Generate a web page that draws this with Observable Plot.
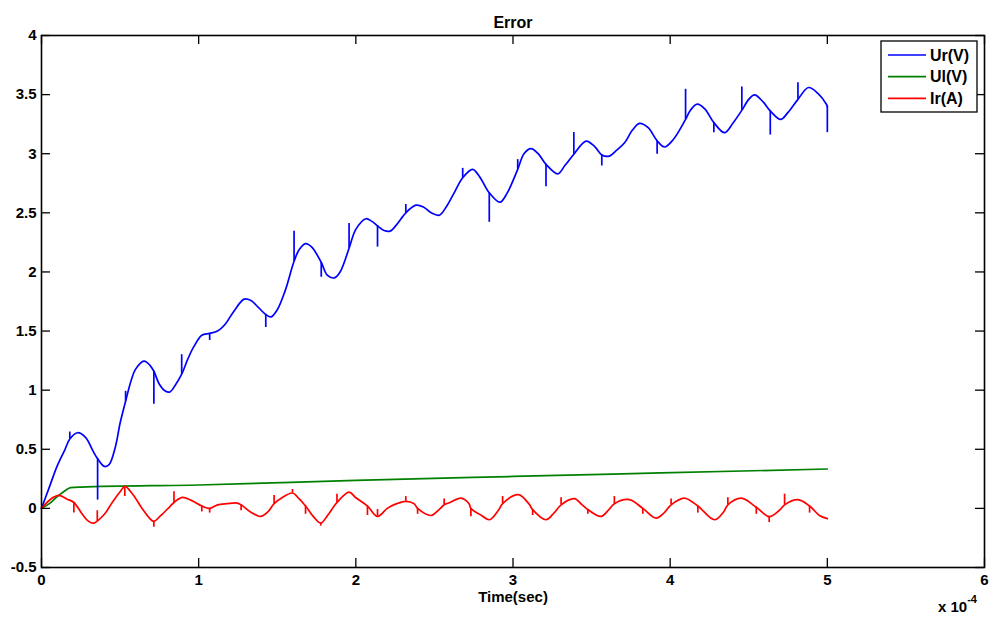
<!DOCTYPE html>
<html><head><meta charset="utf-8">
<script src="https://cdn.jsdelivr.net/npm/d3@7"></script>
<script src="https://cdn.jsdelivr.net/npm/@observablehq/plot@0.6"></script>
<style>body{margin:0;background:#fff;} svg{display:block}</style>
</head><body><div id="chart"></div>
<script>
const chartTitle = "Error";
const xLabel = "Time(sec)";
const seriesNames = ["Ur(V)", "Ul(V)", "Ir(A)"];
const seriesColors = ["#0000ff", "#008000", "#ff0000"];
const xTicks = [0, 1, 2, 3, 4, 5, 6];
const yTicks = [-0.5, 0, 0.5, 1, 1.5, 2, 2.5, 3, 3.5, 4];

// Ur(V): smooth trace [time (x1e-4 s), value]
const urPoints = [
  [0,0],[0.05,0.18],[0.10,0.36],[0.15,0.50],[0.18,0.587],[0.23,0.64],[0.28,0.60],[0.33,0.48],
  [0.357,0.42],[0.40,0.355],[0.43,0.37],[0.47,0.52],[0.50,0.72],[0.535,0.906],
  [0.57,1.08],[0.60,1.18],[0.652,1.245],[0.69,1.21],[0.715,1.16],[0.75,1.05],[0.79,0.99],[0.817,0.985],
  [0.85,1.04],[0.892,1.135],[0.93,1.26],[0.97,1.37],[1.02,1.465],[1.07,1.48],
  [1.12,1.50],[1.17,1.56],[1.22,1.66],[1.289,1.77],[1.33,1.76],[1.38,1.70],[1.427,1.64],[1.46,1.62],
  [1.50,1.68],[1.55,1.84],[1.607,2.09],[1.64,2.19],[1.68,2.24],[1.72,2.21],[1.78,2.08],
  [1.82,1.97],[1.862,1.95],[1.90,2.0],[1.957,2.20],[2.0,2.36],[2.064,2.45],[2.10,2.43],
  [2.138,2.39],[2.18,2.35],[2.218,2.345],[2.26,2.40],[2.318,2.50],
  [2.382,2.565],[2.43,2.55],[2.48,2.50],[2.531,2.48],[2.58,2.56],[2.63,2.68],[2.68,2.797],
  [2.743,2.868],[2.79,2.80],[2.849,2.67],[2.917,2.59],[2.96,2.66],[3.03,2.868],
  [3.07,3.0],[3.115,3.043],[3.16,3.0],[3.21,2.91],[3.285,2.83],[3.33,2.90],[3.387,2.995],
  [3.465,3.107],[3.52,3.06],[3.565,2.99],[3.613,2.98],[3.66,3.03],[3.71,3.093],[3.76,3.20],
  [3.805,3.257],[3.86,3.22],[3.917,3.11],[3.964,3.057],[4.02,3.12],[4.098,3.29],
  [4.13,3.37],[4.172,3.42],[4.22,3.38],[4.278,3.263],[4.346,3.178],[4.40,3.26],
  [4.456,3.367],[4.50,3.46],[4.537,3.497],[4.59,3.44],[4.637,3.362],
  [4.703,3.29],[4.75,3.35],[4.813,3.46],[4.88,3.56],[4.94,3.51],[4.994,3.418],[5.0,3.40]
];
// Ur(V) switching spikes: [time, from, to]
const urSpikes = [
  [0.18,0.587,0.646],[0.357,0.42,0.07],[0.535,0.906,0.99],[0.715,1.16,0.88],[0.892,1.135,1.30],[1.07,1.48,1.42],
  [1.427,1.64,1.53],[1.607,2.09,2.345],[1.78,2.08,1.955],[1.957,2.20,2.41],[2.138,2.39,2.21],[2.318,2.50,2.57],
  [2.68,2.797,2.876],[2.849,2.67,2.42],[3.03,2.868,2.95],[3.21,2.91,2.72],[3.387,2.995,3.18],[3.565,2.99,2.896],
  [3.917,3.11,2.995],[4.098,3.29,3.545],[4.278,3.263,3.178],[4.456,3.367,3.565],[4.637,3.362,3.158],
  [4.813,3.46,3.60],[5.0,3.40,3.178]
];

// Ul(V)
const ulPoints = [
  [0,0],[0.05,0.04],[0.10,0.10],[0.15,0.15],[0.185,0.175],[0.25,0.180],[1.0,0.198],[2.0,0.237],[3.0,0.27],[3.94,0.30],[5.0,0.333]
];

// Ir(A)
const irPoints = [
  [0,0],[0.06,0.08],[0.11,0.11],[0.16,0.08],[0.206,0.05],[0.26,-0.05],[0.30,-0.11],[0.333,-0.124],
  [0.40,-0.05],[0.45,0.05],[0.50,0.14],[0.53,0.186],
  [0.58,0.12],[0.64,0.0],[0.70,-0.10],[0.715,-0.11],[0.76,-0.06],[0.82,0.02],
  [0.843,0.05],[0.896,0.093],[0.95,0.07],[1.02,0.02],[1.07,0.0],
  [1.12,0.03],[1.18,0.04],[1.246,0.045],[1.27,0.03],[1.33,-0.03],[1.395,-0.068],[1.44,-0.03],
  [1.48,0.04],[1.53,0.09],[1.597,0.13],[1.64,0.08],[1.68,0.02],
  [1.73,-0.07],[1.777,-0.124],[1.82,-0.06],[1.88,0.05],[1.957,0.138],[2.0,0.09],
  [2.074,0.02],[2.138,-0.068],[2.20,0.0],[2.26,0.04],[2.318,0.06],
  [2.37,0.04],[2.393,0.0],[2.478,-0.06],[2.53,-0.01],[2.562,0.03],[2.60,0.05],[2.669,0.087],
  [2.72,0.04],[2.732,0.0],[2.80,-0.06],[2.85,-0.096],[2.91,-0.01],[2.934,0.04],
  [3.034,0.116],[3.10,0.04],[3.125,-0.01],[3.21,-0.096],[3.26,-0.04],[3.306,0.03],
  [3.39,0.082],[3.44,0.03],[3.476,-0.01],[3.56,-0.068],[3.61,-0.01],[3.645,0.04],
  [3.74,0.074],[3.826,0.0],[3.91,-0.082],[3.96,-0.04],[4.006,0.03],
  [4.09,0.087],[4.176,0.02],[4.282,-0.096],[4.34,-0.03],[4.367,0.03],
  [4.452,0.087],[4.548,0.01],[4.63,-0.07],[4.70,-0.01],
  [4.728,0.03],[4.813,0.074],[4.887,0.02],[4.95,-0.06],[5.0,-0.087]
];
// Ir(A) spikes: [time, from, to]
const irSpikes = [
  [0.206,0.05,-0.04],[0.355,-0.11,-0.02],[0.53,0.186,0.10],[0.715,-0.11,-0.16],[0.843,0.05,0.14],[1.02,0.02,-0.03],
  [1.07,0.0,-0.04],[1.27,0.03,-0.02],[1.48,0.04,0.11],[1.597,0.13,0.16],[1.68,0.02,-0.05],[1.777,-0.124,-0.15],
  [1.88,0.05,0.12],[2.074,0.02,-0.06],[2.138,-0.068,-0.01],[2.318,0.06,0.10],[2.393,0.0,-0.05],[2.562,0.03,0.08],
  [2.732,0.0,-0.07],[2.934,0.04,0.10],[3.125,-0.01,-0.06],[3.306,0.03,0.09],[3.476,-0.01,-0.05],[3.645,0.04,0.10],
  [3.826,0.0,-0.05],[4.006,0.03,0.08],[4.176,0.02,-0.04],[4.367,0.03,0.09],[4.548,0.01,-0.05],[4.63,-0.07,-0.12],
  [4.728,0.03,0.12],[4.887,0.02,-0.04]
];

const toRows = (pts, name) => pts.map(([t, v]) => ({t, v, series: name}));
const urData = toRows(urPoints, seriesNames[0]);
const ulData = toRows(ulPoints, seriesNames[1]);
const irData = toRows(irPoints, seriesNames[2]);
const spikes = [
  ...urSpikes.map(([t, a, b]) => ({t, a, b, series: seriesNames[0]})),
  ...irSpikes.map(([t, a, b]) => ({t, a, b, series: seriesNames[2]}))
];

const W = 990, H = 619;
const mL = 41, mR = 6, mT = 35, mB = 52;
const xDom = [0, 6], yDom = [-0.5, 4];
const tickLen = 9;
const xPerPx = (xDom[1] - xDom[0]) / (W - mL - mR);
const yPerPx = (yDom[1] - yDom[0]) / (H - mT - mB);
const font = "'Liberation Sans', Arial, Helvetica, sans-serif";

const plot = Plot.plot({
  width: W, height: H,
  marginLeft: mL, marginRight: mR, marginTop: mT, marginBottom: mB,
  style: {fontFamily: font, fontWeight: "bold", fontSize: "15px", background: "white", color: "black"},
  x: {domain: xDom},
  y: {domain: yDom},
  color: {domain: seriesNames, range: seriesColors},
  marks: [
    Plot.line(urData, {x: "t", y: "v", stroke: "series", strokeWidth: 1.7, curve: "catmull-rom", strokeLinejoin: "round"}),
    Plot.line(ulData, {x: "t", y: "v", stroke: "series", strokeWidth: 1.7, curve: "monotone-x", strokeLinejoin: "round"}),
    Plot.line(irData, {x: "t", y: "v", stroke: "series", strokeWidth: 1.7, curve: "catmull-rom", strokeLinejoin: "round"}),
    Plot.ruleX(spikes, {x: "t", y1: "a", y2: "b", stroke: "series", strokeWidth: 1.7}),
    Plot.ruleX(xTicks, {x: d => d, y1: yDom[0], y2: yDom[0] + tickLen * yPerPx, stroke: "black", strokeWidth: 1.3}),
    Plot.ruleX(xTicks, {x: d => d, y1: yDom[1], y2: yDom[1] - tickLen * yPerPx, stroke: "black", strokeWidth: 1.3}),
    Plot.ruleY(yTicks, {y: d => d, x1: xDom[0], x2: xDom[0] + tickLen * xPerPx, stroke: "black", strokeWidth: 1.3}),
    Plot.ruleY(yTicks, {y: d => d, x1: xDom[1], x2: xDom[1] - tickLen * xPerPx, stroke: "black", strokeWidth: 1.3}),
    Plot.axisX(xTicks, {tickSize: 0, tickPadding: 7, label: null, fontSize: 15, fontWeight: "bold", tickFormat: d => String(d)}),
    Plot.axisY(yTicks, {tickSize: 0, tickPadding: 5, label: null, fontSize: 15, fontWeight: "bold", tickFormat: d => String(d)}),
    Plot.frame({stroke: "black", strokeWidth: 1.6}),
    Plot.text([chartTitle], {text: d => d, frameAnchor: "top", dy: -19, fontSize: 16, fontWeight: "bold"}),
    Plot.text([xLabel], {text: d => d, frameAnchor: "bottom", dy: 34, fontSize: 15, fontWeight: "bold"})
  ]
});
document.getElementById("chart").appendChild(plot);

const svg = d3.select(plot);
// exponent note
const ex = svg.append("text").attr("x", 938).attr("y", 612).attr("text-anchor", "start")
  .attr("font-size", 15).attr("font-weight", "bold").attr("font-family", font);
ex.append("tspan").text("x 10");
ex.append("tspan").attr("dy", -9).attr("font-size", 11).text("-4");

// legend
const lg = svg.append("g").attr("font-family", font).attr("font-weight", "bold").attr("font-size", 16).attr("text-anchor", "start");
lg.append("rect").attr("x", 881).attr("y", 41).attr("width", 96).attr("height", 71).attr("fill", "white").attr("stroke", "black").attr("stroke-width", 1.3);
seriesNames.forEach((name, i) => {
  const y = 55 + i * 21.7;
  lg.append("line").attr("x1", 888).attr("x2", 926).attr("y1", y).attr("y2", y).attr("stroke", seriesColors[i]).attr("stroke-width", 1.7);
  lg.append("text").attr("x", 930).attr("y", y).attr("dy", "0.36em").attr("text-anchor", "start").text(name);
});
</script>
</body></html>
